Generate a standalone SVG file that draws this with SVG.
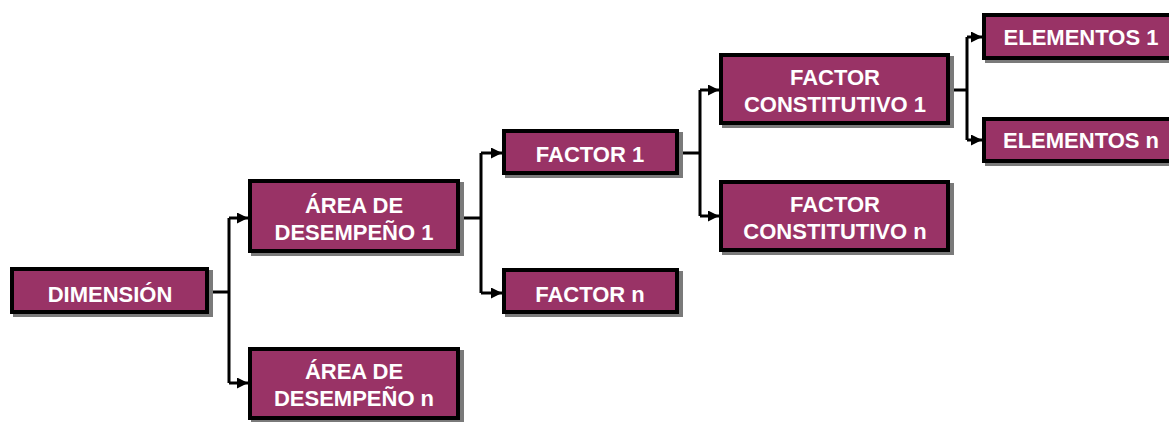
<svg xmlns="http://www.w3.org/2000/svg" width="1169" height="422" viewBox="0 0 1169 422">
  <style>
    .shadow { fill: #7a7a7a; }
    .box { fill: #993366; stroke: #000; stroke-width: 4; }
    .label { font-family: "Liberation Sans", Arial, sans-serif; font-weight: bold; font-size: 22px; fill: #fff; text-anchor: middle; }
    .wire { fill: none; stroke: #000; stroke-width: 3; }
    .arrow { fill: none; stroke: #000; stroke-width: 3; marker-end: url(#head); }
  </style>
  <defs>
    <marker id="head" viewBox="0 0 10 10" refX="10" refY="5" markerWidth="11" markerHeight="11" markerUnits="userSpaceOnUse" orient="auto">
      <path d="M0,0 L10,5 L0,10 Z" fill="#000"/>
    </marker>
  </defs>
  <rect width="1169" height="422" fill="#fff"/>

  <g id="connectors">
    <!-- Dimensión to áreas -->
    <path class="wire" d="M209,292 H229 M229,218 V383"/>
    <path class="arrow" d="M229,218 H248"/>
    <path class="arrow" d="M229,383 H248"/>
    <!-- Área 1 to factores -->
    <path class="wire" d="M460,218 H481 M481,153 V293"/>
    <path class="arrow" d="M481,153 H502"/>
    <path class="arrow" d="M481,293 H502"/>
    <!-- Factor 1 to factores constitutivos -->
    <path class="wire" d="M679,153 H700 M700,90 V216"/>
    <path class="arrow" d="M700,90 H719"/>
    <path class="arrow" d="M700,216 H719"/>
    <!-- Factor constitutivo 1 to elementos -->
    <path class="wire" d="M950,90 H967 M967,37 V140"/>
    <path class="arrow" d="M967,37 H982"/>
    <path class="arrow" d="M967,140 H982"/>
  </g>

  <g id="dimension">
    <rect class="shadow" x="13" y="270" width="200" height="47"/>
    <rect class="box" x="12" y="269" width="195" height="43"/>
    <text class="label" x="110" y="302">DIMENSIÓN</text>
  </g>

  <g id="area-1">
    <rect class="shadow" x="251" y="182" width="213" height="74"/>
    <rect class="box" x="250" y="181" width="208" height="70"/>
    <text class="label" x="354" y="213">ÁREA DE</text>
    <text class="label" x="354" y="240">DESEMPEÑO 1</text>
  </g>

  <g id="area-n">
    <rect class="shadow" x="251" y="350" width="213" height="73"/>
    <rect class="box" x="250" y="349" width="208" height="69"/>
    <text class="label" x="354" y="379">ÁREA DE</text>
    <text class="label" x="354" y="406">DESEMPEÑO n</text>
  </g>

  <g id="factor-1">
    <rect class="shadow" x="505" y="132" width="178" height="46"/>
    <rect class="box" x="504" y="131" width="173" height="42"/>
    <text class="label" x="590" y="162">FACTOR 1</text>
  </g>

  <g id="factor-n">
    <rect class="shadow" x="505" y="271" width="178" height="46"/>
    <rect class="box" x="504" y="270" width="173" height="42"/>
    <text class="label" x="590" y="302">FACTOR n</text>
  </g>

  <g id="factor-constitutivo-1">
    <rect class="shadow" x="722" y="56" width="232" height="72"/>
    <rect class="box" x="721" y="55" width="227" height="68"/>
    <text class="label" x="835" y="85">FACTOR</text>
    <text class="label" x="835" y="112">CONSTITUTIVO 1</text>
  </g>

  <g id="factor-constitutivo-n">
    <rect class="shadow" x="722" y="183" width="232" height="72"/>
    <rect class="box" x="721" y="182" width="227" height="68"/>
    <text class="label" x="835" y="212">FACTOR</text>
    <text class="label" x="835" y="239">CONSTITUTIVO n</text>
  </g>

  <g id="elementos-1">
    <rect class="shadow" x="985" y="16" width="205" height="47"/>
    <rect class="box" x="984" y="15" width="200" height="43"/>
    <text class="label" x="1081" y="45">ELEMENTOS 1</text>
  </g>

  <g id="elementos-n">
    <rect class="shadow" x="985" y="120" width="205" height="46"/>
    <rect class="box" x="984" y="119" width="200" height="42"/>
    <text class="label" x="1081" y="148">ELEMENTOS n</text>
  </g>
</svg>
